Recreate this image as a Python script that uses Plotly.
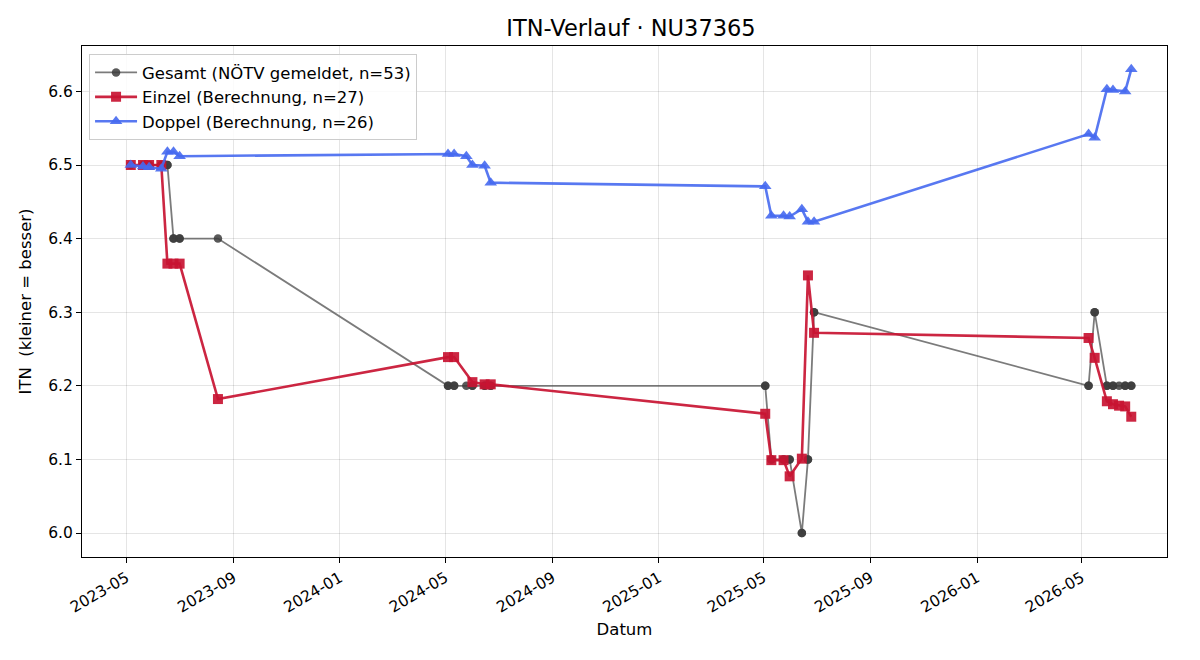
import plotly.graph_objects as go

# ---- Data ----
einzel_dates = [
    "2023-05-06", "2023-05-20", "2023-05-27", "2023-06-10", "2023-06-17", "2023-06-24", "2023-07-01", "2023-08-14",
    "2024-05-04", "2024-05-11", "2024-06-01", "2024-06-15", "2024-06-22",
    "2025-05-03", "2025-05-10", "2025-05-24", "2025-05-31", "2025-06-14", "2025-06-21", "2025-06-28",
    "2026-05-09", "2026-05-16", "2026-05-30", "2026-06-06", "2026-06-13", "2026-06-20", "2026-06-27",
]
einzel_itn = [
    6.500, 6.500, 6.500, 6.500, 6.366, 6.366, 6.366, 6.182,
    6.239, 6.239, 6.205, 6.202, 6.202,
    6.162, 6.099, 6.099, 6.077, 6.101, 6.350, 6.272,
    6.265, 6.238, 6.179, 6.175, 6.173, 6.172, 6.158,
]

doppel_dates = [
    "2023-05-06", "2023-05-20", "2023-05-27", "2023-06-10", "2023-06-17", "2023-06-24", "2023-07-01",
    "2024-05-04", "2024-05-11", "2024-05-25", "2024-06-01", "2024-06-15", "2024-06-22",
    "2025-05-03", "2025-05-10", "2025-05-24", "2025-05-31", "2025-06-14", "2025-06-21", "2025-06-28",
    "2026-05-09", "2026-05-16", "2026-05-30", "2026-06-06", "2026-06-20", "2026-06-27",
]
doppel_itn = [
    6.500, 6.498, 6.497, 6.495, 6.518, 6.518, 6.512,
    6.515, 6.515, 6.512, 6.500, 6.499, 6.476,
    6.471, 6.431, 6.431, 6.430, 6.440, 6.423, 6.423,
    6.542, 6.537, 6.603, 6.602, 6.600, 6.630,
]

# reported (NÖTV) ITN per match date
gesamt_date_keys = [
    "2023-05-06", "2023-05-20", "2023-05-27", "2023-06-10", "2023-06-17", "2023-06-24", "2023-07-01", "2023-08-14",
    "2024-05-04", "2024-05-11", "2024-05-25", "2024-06-01", "2024-06-15", "2024-06-22",
    "2025-05-03", "2025-05-10", "2025-05-24", "2025-05-31", "2025-06-14", "2025-06-21", "2025-06-28",
    "2026-05-09", "2026-05-16", "2026-05-30", "2026-06-06", "2026-06-13", "2026-06-20", "2026-06-27",
]
gesamt_itn_per_date = [
    6.5, 6.5, 6.5, 6.5, 6.5, 6.4, 6.4, 6.4,
    6.2, 6.2, 6.2, 6.2, 6.2, 6.2,
    6.2, 6.1, 6.1, 6.1, 6.0, 6.1, 6.3,
    6.2, 6.3, 6.2, 6.2, 6.2, 6.2, 6.2,
]

lookup = dict(zip(gesamt_date_keys, gesamt_itn_per_date))
gesamt_dates = sorted(einzel_dates + doppel_dates)
gesamt_itn = [lookup[d] for d in gesamt_dates]

FONT = "DejaVu Sans"

fig = go.Figure()
fig.add_trace(go.Scatter(
    x=gesamt_dates, y=gesamt_itn, mode="lines+markers",
    name=f"Gesamt (NÖTV gemeldet, n={len(gesamt_dates)})",
    line=dict(color="rgba(90,90,90,0.8)", width=1.8),
    marker=dict(symbol="circle", size=8.5, color="rgba(60,60,60,0.85)"),
))
fig.add_trace(go.Scatter(
    x=einzel_dates, y=einzel_itn, mode="lines+markers",
    name=f"Einzel (Berechnung, n={len(einzel_dates)})",
    line=dict(color="rgba(200,20,50,0.92)", width=2.6),
    marker=dict(symbol="square", size=10, color="rgba(200,20,50,0.92)"),
))
fig.add_trace(go.Scatter(
    x=doppel_dates, y=doppel_itn, mode="lines+markers",
    name=f"Doppel (Berechnung, n={len(doppel_dates)})",
    line=dict(color="rgba(70,105,240,0.9)", width=2.6),
    marker=dict(symbol="triangle-up", size=11, color="rgba(70,105,240,0.9)"),
))

fig.update_layout(
    width=1200, height=660,
    margin=dict(l=82, r=33, t=46, b=103),
    paper_bgcolor="white", plot_bgcolor="white",
    font=dict(family=FONT, size=15, color="black"),
    title=dict(text="ITN-Verlauf · NU37365", xref="paper", x=0.506, xanchor="center",
               y=1 - 28 / 660, yanchor="middle", font=dict(size=22.5)),
    legend=dict(x=0.0065, y=0.984, xanchor="left", yanchor="top",
                bgcolor="rgba(255,255,255,0.85)", bordercolor="#cccccc", borderwidth=1,
                font=dict(size=16.5), tracegroupgap=2, itemwidth=42),
    showlegend=True,
)
fig.update_xaxes(
    range=["2023-03-11", "2026-08-07"],
    type="date", tick0="2023-01-01", dtick="M4", tickformat="%Y-%m",
    tickangle=-30, ticks="outside", ticklen=5, tickcolor="black",
    showgrid=True, gridcolor="rgba(0,0,0,0.1)", gridwidth=1,
    showline=True, linecolor="black", linewidth=1, mirror=True,
    title=dict(text="Datum", font=dict(size=16.5), standoff=8),
    tickfont=dict(size=15.5), zeroline=False,
)
fig.update_yaxes(
    range=[5.9674, 6.6617], tick0=6.0, dtick=0.1, tickformat=".1f",
    ticks="outside", ticklen=5, tickcolor="black",
    showgrid=True, gridcolor="rgba(0,0,0,0.1)", gridwidth=1,
    showline=True, linecolor="black", linewidth=1, mirror=True,
    title=dict(text="ITN\u00a0 (kleiner = besser)", font=dict(size=16.5), standoff=12),
    tickfont=dict(size=15.5), zeroline=False,
)

fig.write_html("out.html")
